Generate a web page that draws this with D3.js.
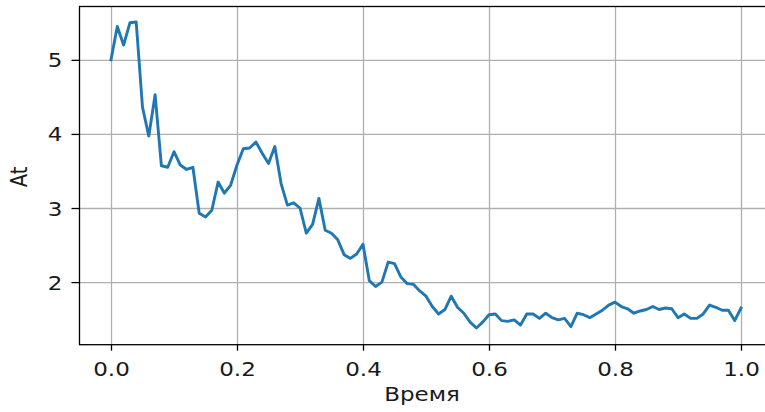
<!DOCTYPE html>
<html>
<head>
<meta charset="utf-8">
<script src="https://cdn.jsdelivr.net/npm/d3@7"></script>
<style>
  body { margin: 0; background: #fff; }
  text { font-family: 'DejaVu Sans', sans-serif; fill: #1a1a1a; }
</style>
</head>
<body>
<div id="visualization"></div>
<script>
// sampled times, step 0.01 from 0 to 1
const times = d3.range(0, 101).map(i => i / 100)

// At values
const atValues = [
  5.00, 5.45, 5.20, 5.50, 5.51, 4.36, 3.97, 4.53, 3.57, 3.55,
  3.76, 3.58, 3.52, 3.55, 2.93, 2.88, 2.97, 3.35, 3.20, 3.31,
  3.58, 3.80, 3.81, 3.89, 3.74, 3.60, 3.83, 3.33, 3.04, 3.07,
  3.00, 2.66, 2.78, 3.13, 2.70, 2.66, 2.57, 2.37, 2.32, 2.38,
  2.51, 2.02, 1.94, 2.00, 2.27, 2.25, 2.07, 1.98, 1.97, 1.88,
  1.81, 1.67, 1.57, 1.63, 1.81, 1.66, 1.58, 1.46, 1.38, 1.46,
  1.56, 1.57, 1.48, 1.47, 1.49, 1.42, 1.57, 1.57, 1.51, 1.58,
  1.52, 1.49, 1.51, 1.40, 1.58, 1.56, 1.52, 1.57, 1.62, 1.69,
  1.73, 1.67, 1.64, 1.58, 1.61, 1.63, 1.67, 1.63, 1.65, 1.64,
  1.52, 1.57, 1.51, 1.51, 1.57, 1.69, 1.66, 1.62, 1.62, 1.48,
  1.65
]

const xTicks = [0, 0.2, 0.4, 0.6, 0.8, 1.0]
const yTicks = [2, 3, 4, 5]

const width = 765
const height = 412
const plotLeft = 79.5, plotRight = 772.5, plotTop = 6.5, plotBottom = 344.7
const stretch = 1.18 // picture is stretched sideways, text too

const x = d3.scaleLinear().domain([-0.05, 1.05]).range([plotLeft, plotRight])
const y = d3.scaleLinear().domain([1.155, 5.72]).range([plotBottom, plotTop])

const svg = d3.select('#visualization')
  .append('svg')
  .attr('id', 'canvas')
  .attr('width', width)
  .attr('height', height)

// grid
svg.append('g')
  .attr('transform', `translate(0,${plotBottom})`)
  .call(d3.axisBottom(x).tickValues(xTicks).tickSize(-(plotBottom - plotTop)).tickFormat(''))
  .call(g => g.select('.domain').remove())
  .call(g => g.selectAll('line').attr('stroke', '#b0b0b0').attr('stroke-width', 1.3))

svg.append('g')
  .attr('transform', `translate(${plotLeft},0)`)
  .call(d3.axisLeft(y).tickValues(yTicks).tickSize(-(plotRight - plotLeft)).tickFormat(''))
  .call(g => g.select('.domain').remove())
  .call(g => g.selectAll('line').attr('stroke', '#b0b0b0').attr('stroke-width', 1.3))

// line
const line = d3.line()
  .x((d, i) => x(times[i]))
  .y(d => y(d))

svg.append('path')
  .datum(atValues)
  .attr('fill', 'none')
  .attr('stroke', '#1f77b4')
  .attr('stroke-width', 2.9)
  .attr('stroke-linejoin', 'round')
  .attr('stroke-linecap', 'square')
  .attr('d', line)

// spines
svg.append('rect')
  .attr('x', plotLeft)
  .attr('y', plotTop)
  .attr('width', plotRight - plotLeft)
  .attr('height', plotBottom - plotTop)
  .attr('fill', 'none')
  .attr('stroke', '#000')
  .attr('stroke-width', 1.3)

// x axis ticks + labels
const xAxis = svg.append('g')
  .attr('transform', `translate(0,${plotBottom})`)
  .call(d3.axisBottom(x).tickValues(xTicks).tickSize(6).tickFormat(d3.format('.1f')))
xAxis.select('.domain').remove()
xAxis.selectAll('line').attr('stroke', '#000').attr('stroke-width', 1.3)
xAxis.selectAll('text')
  .attr('y', 0)
  .attr('dy', 0)
  .attr('font-size', '19.5px')
  .attr('font-family', 'DejaVu Sans')
  .attr('fill', '#1a1a1a')
  .attr('transform', `translate(0,31) scale(${stretch},1)`)

// y axis ticks + labels
const yAxis = svg.append('g')
  .attr('transform', `translate(${plotLeft},0)`)
  .call(d3.axisLeft(y).tickValues(yTicks).tickSize(8).tickFormat(d3.format('d')))
yAxis.select('.domain').remove()
yAxis.selectAll('line').attr('stroke', '#000').attr('stroke-width', 1.3)
yAxis.selectAll('text')
  .attr('x', 0)
  .attr('dy', 0)
  .attr('font-size', '19.5px')
  .attr('font-family', 'DejaVu Sans')
  .attr('fill', '#1a1a1a')
  .attr('transform', `translate(-17,7) scale(${stretch},1)`)

// axis titles
svg.append('text')
  .attr('text-anchor', 'middle')
  .attr('font-size', '19.5px')
  .attr('transform', `translate(422,401) scale(${stretch},1)`)
  .text('Время')

svg.append('text')
  .attr('text-anchor', 'middle')
  .attr('font-size', '19.5px')
  .attr('transform', `translate(27,177) scale(${stretch},1) rotate(-90)`)
  .text('At')
</script>
</body>
</html>
